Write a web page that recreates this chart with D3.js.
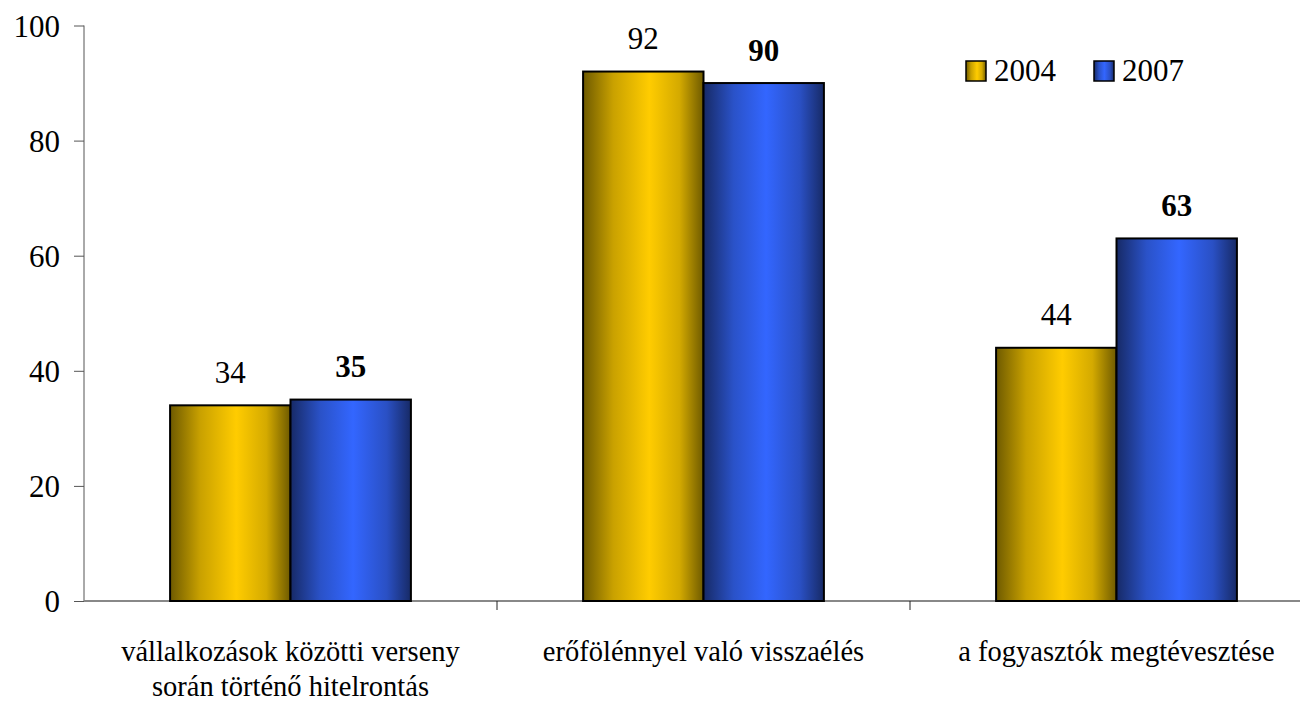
<!DOCTYPE html>
<html><head><meta charset="utf-8">
<script src="https://cdn.jsdelivr.net/npm/d3@7"></script>
<style>body{margin:0;background:#fff}svg{display:block}</style>
</head><body>
<svg id="c" width="1300" height="703"></svg>
<script>
const categories = [["vállalkozások közötti verseny","során történő hitelrontás"],["erőfölénnyel való visszaélés"],["a fogyasztók megtévesztése"]];
const seriesNames = ["2004","2007"];
const values2004 = [34, 92, 44];
const values2007 = [35, 90, 63];
const yTicks = [0,20,40,60,80,100];

(function(){
const F = "'Liberation Serif', 'Times New Roman', serif";
const svg = d3.select("#c");
const mLeft = 84, mRight = 1323, mTop = 25.5, mBottom = 601;
const x = d3.scaleBand().domain(d3.range(categories.length)).range([mLeft, mRight]).paddingInner(0).paddingOuter(0);
const y = d3.scaleLinear().domain([0,100]).range([mBottom, mTop]);
const sub = d3.scaleBand().domain(seriesNames).range([0, x.bandwidth()]).paddingInner(0).paddingOuter(0.715);

const defs = svg.append("defs");
function grad(id, stops){
  const g = defs.append("linearGradient").attr("id", id).attr("x1","0").attr("x2","1").attr("y1","0").attr("y2","0");
  stops.forEach(s => g.append("stop").attr("offset", s[0]).attr("stop-color", s[1]));
}
grad("gY", [[0,"#6e5a00"],[0.25,"#c9a100"],[0.55,"#ffcc00"],[0.8,"#d4aa00"],[1,"#6e5a00"]]);
grad("gB", [[0,"#172a66"],[0.25,"#2a52c8"],[0.52,"#3366ff"],[0.8,"#2a50c4"],[1,"#172a66"]]);
const fills = {"2004":"url(#gY)","2007":"url(#gB)"};

const yAxis = d3.axisLeft(y).tickValues(yTicks).tickSize(10).tickPadding(14);
const gy = svg.append("g").attr("transform",`translate(${mLeft},0)`).call(yAxis);
gy.select(".domain").attr("stroke","#555").attr("d",`M0,${mTop}V${mBottom}`);
gy.selectAll(".tick line").attr("stroke","#555");
gy.selectAll(".tick text").attr("fill","#000").style("font-family",F).style("font-size","31px").attr("dy","0.34em");

const gx = svg.append("g");
gx.append("line").attr("x1",mLeft).attr("x2",1300).attr("y1",mBottom).attr("y2",mBottom).attr("stroke","#888").attr("stroke-width",2);
[1,2].forEach(i => gx.append("line").attr("x1",x(i)).attr("x2",x(i)).attr("y1",mBottom).attr("y2",mBottom+9).attr("stroke","#222").attr("stroke-width",1));

const data = [];
categories.forEach((c,i) => { data.push({i, s:"2004", v:values2004[i]}); data.push({i, s:"2007", v:values2007[i]}); });
svg.append("g").selectAll("rect").data(data).join("rect")
  .attr("x", d => x(d.i) + sub(d.s))
  .attr("y", d => y(d.v))
  .attr("width", sub.bandwidth())
  .attr("height", d => y(0) - y(d.v))
  .attr("fill", d => fills[d.s])
  .attr("stroke","#000").attr("stroke-width",2);

svg.append("g").selectAll("text").data(data).join("text")
  .attr("x", d => x(d.i) + sub(d.s) + sub.bandwidth()/2)
  .attr("y", d => y(d.v) - 22.5)
  .attr("text-anchor","middle")
  .style("font-family",F).style("font-size","31px")
  .style("font-weight", d => d.s==="2007" ? "bold" : "normal")
  .text(d => d.v);

categories.forEach((c,i) => {
  const t = svg.append("text").attr("text-anchor","middle").style("font-family",F).style("font-size","28.5px");
  c.forEach((ln,k) => t.append("tspan").attr("x", x(i)+x.bandwidth()/2).attr("y", 661 + k*35).text(ln));
});

const leg = svg.append("g");
const legX = [966, 1094];
seriesNames.forEach((s,k) => {
  leg.append("rect").attr("x",legX[k]).attr("y",61).attr("width",20).attr("height",20).attr("fill",fills[s]).attr("stroke","#000").attr("stroke-width",1.5);
  leg.append("text").attr("x",legX[k]+28).attr("y",81).style("font-family",F).style("font-size","31px").text(s);
});
})();
</script>
</body></html>
